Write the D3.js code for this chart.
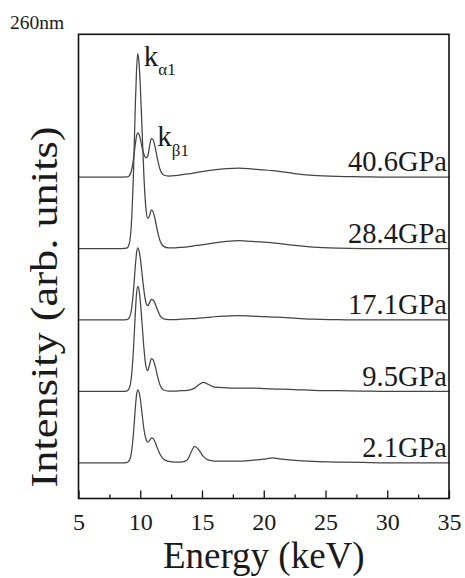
<!DOCTYPE html>
<html>
<head>
<meta charset="utf-8">
<script src="https://cdn.jsdelivr.net/npm/d3@7"></script>
<style>
  html, body { margin: 0; padding: 0; background: #fff; }
  svg { display: block; }
  text { font-family: "Liberation Serif", "Times New Roman", serif; fill: #1a1a1a; }
</style>
</head>
<body>
<svg id="chart" width="465" height="578"></svg>
<script>
// Photon energy grid (keV) shared by every spectrum
const energy = [5, 8.5, 8.9, 9.1, 9.3, 9.45, 9.6, 9.7, 9.8, 9.9,
  10.0, 10.15, 10.3, 10.45, 10.6, 10.75, 10.9, 11.05, 11.2, 11.4,
  11.6, 11.9, 12.3, 12.8, 13.3, 13.8, 14.1, 14.4, 14.7, 15.1,
  15.5, 16, 17, 18, 19, 20, 20.7, 21.5, 22.5, 24,
  26, 28, 30, 32.5, 35];

// Intensities above each spectrum's own baseline (arb. units)
const gpa2_1 = [0, 0, 0.003, 0.03, 0.16, 0.41, 0.76, 0.95, 1.02, 0.99,
  0.9, 0.68, 0.47, 0.34, 0.29, 0.31, 0.35, 0.34, 0.29, 0.2,
  0.12, 0.05, 0.02, 0.01, 0.01, 0.04, 0.14, 0.23, 0.19, 0.09,
  0.04, 0.025, 0.025, 0.025, 0.035, 0.05, 0.07, 0.05, 0.035, 0.02,
  0.01, 0.005, 0, 0, 0];
const gpa9_5 = [0, 0, 0.004, 0.04, 0.23, 0.59, 1.09, 1.37, 1.47, 1.42,
  1.27, 0.94, 0.6, 0.36, 0.29, 0.37, 0.46, 0.44, 0.36, 0.21,
  0.09, 0.02, 0.005, 0.005, 0.01, 0.015, 0.025, 0.045, 0.085, 0.125,
  0.1, 0.06, 0.05, 0.045, 0.045, 0.04, 0.035, 0.03, 0.025, 0.015,
  0.01, 0.005, 0, 0, 0];
const gpa17_1 = [0, 0, 0.003, 0.03, 0.16, 0.41, 0.75, 0.94, 1.01, 0.97,
  0.87, 0.64, 0.41, 0.25, 0.2, 0.24, 0.29, 0.28, 0.23, 0.14,
  0.06, 0.015, 0.005, 0.005, 0.01, 0.015, 0.02, 0.02, 0.025, 0.03,
  0.035, 0.045, 0.055, 0.06, 0.055, 0.045, 0.04, 0.035, 0.025, 0.01,
  0.005, 0, 0, 0, 0];
const gpa28_4 = [0, 0, 0.005, 0.06, 0.4, 1.05, 2.0, 2.5, 2.73, 2.6,
  2.3, 1.65, 1.0, 0.58, 0.42, 0.46, 0.54, 0.51, 0.41, 0.24,
  0.11, 0.03, 0.01, 0.01, 0.015, 0.025, 0.03, 0.04, 0.045, 0.055,
  0.065, 0.08, 0.1, 0.11, 0.1, 0.09, 0.08, 0.065, 0.045, 0.02,
  0.005, 0, 0, 0, 0];
const gpa40_6 = [0, 0, 0.002, 0.017, 0.1, 0.25, 0.46, 0.576, 0.62, 0.6,
  0.54, 0.414, 0.32, 0.27, 0.29, 0.43, 0.54, 0.52, 0.424, 0.25,
  0.11, 0.03, 0.015, 0.02, 0.03, 0.045, 0.05, 0.06, 0.07, 0.08,
  0.09, 0.1, 0.12, 0.125, 0.115, 0.1, 0.09, 0.075, 0.05, 0.025,
  0.01, 0.005, 0, 0, 0];

const spectra = [gpa2_1, gpa9_5, gpa17_1, gpa28_4, gpa40_6];
const pressures = ["2.1GPa", "9.5GPa", "17.1GPa", "28.4GPa", "40.6GPa"];
const stackOffsets = [0, 1, 2, 3, 4];   // vertical shift of each spectrum

const xTicks = [5, 10, 15, 20, 25, 30, 35];
const xMinorTicks = [7.5, 12.5, 17.5, 22.5, 27.5, 32.5];

const svg = d3.select("#chart");
const margin = { left: 78.5, right: 16, top: 34.3, bottom: 79.5 };
const W = 465, H = 578;

const x = d3.scaleLinear().domain([5, 35]).range([margin.left, W - margin.right]);
const y = d3.scaleLinear().domain([-0.5, 6.0]).range([H - margin.bottom, margin.top]);

// spectra
const line = d3.line()
  .x(d => x(d[0]))
  .y(d => y(d[1]))
  .curve(d3.curveMonotoneX);

spectra.forEach((vals, i) => {
  const pts = energy.map((e, j) => [e, vals[j] + stackOffsets[i]]);
  svg.append("path")
    .attr("d", line(pts))
    .attr("fill", "none")
    .attr("stroke", "#444")
    .attr("stroke-width", 1.25)
    .attr("stroke-linejoin", "round");
});

// pressure labels, right-aligned just above each baseline
pressures.forEach((p, i) => {
  svg.append("text")
    .attr("x", x(35) - 2)
    .attr("y", y(stackOffsets[i] + 0.08))
    .attr("text-anchor", "end")
    .attr("font-size", 28.5)
    .text(p);
});

// peak annotations
const kaPeak = d3.max(gpa28_4) + stackOffsets[3];
const ka = svg.append("text")
  .attr("x", x(9.8) + 6)
  .attr("y", y(kaPeak) + 12)
  .attr("font-size", 29);
ka.append("tspan").text("k");
ka.append("tspan").attr("font-size", 17).attr("dy", 9).text("\u03b11");

const kbPeak = gpa40_6[16] + stackOffsets[4];
const kb = svg.append("text")
  .attr("x", x(10.9) + 6)
  .attr("y", y(kbPeak) + 7)
  .attr("font-size", 29);
kb.append("tspan").text("k");
kb.append("tspan").attr("font-size", 17).attr("dy", 10).text("\u03b21");

// bottom axis: inward ticks
const xAxis = d3.axisBottom(x).tickValues(xTicks).tickSizeInner(-8).tickSizeOuter(0)
  .tickPadding(14).tickFormat(d3.format("d"));
const gx = svg.append("g")
  .attr("transform", `translate(0,${y(-0.5)})`)
  .call(xAxis);
gx.select(".domain").remove();
gx.selectAll("line").attr("stroke", "#111").attr("stroke-width", 1.3);
gx.selectAll("text")
  .attr("font-size", 24)
  .attr("fill", "#1a1a1a");

const xMinor = d3.axisBottom(x).tickValues(xMinorTicks).tickSizeInner(-4).tickSizeOuter(0).tickFormat("");
const gm = svg.append("g")
  .attr("transform", `translate(0,${y(-0.5)})`)
  .call(xMinor);
gm.select(".domain").remove();
gm.selectAll("line").attr("stroke", "#111").attr("stroke-width", 1.3);

// plot frame
svg.append("rect")
  .attr("x", x(5))
  .attr("y", y(6.0))
  .attr("width", x(35) - x(5))
  .attr("height", y(-0.5) - y(6.0))
  .attr("fill", "none")
  .attr("stroke", "#111")
  .attr("stroke-width", 1.6);

// axis titles
svg.append("text")
  .attr("x", (x(5) + x(35)) / 2)
  .attr("y", 568)
  .attr("text-anchor", "middle")
  .attr("font-size", 37)
  .text("Energy (keV)");

svg.append("text")
  .attr("transform", "translate(57,307) rotate(-90)")
  .attr("text-anchor", "middle")
  .attr("font-size", 38)
  .attr("textLength", 361)
  .attr("lengthAdjust", "spacingAndGlyphs")
  .text("Intensity (arb. units)");

// sample size note
svg.append("text")
  .attr("x", 10)
  .attr("y", 29)
  .attr("font-size", 19.5)
  .text("260nm");
</script>
</body>
</html>
